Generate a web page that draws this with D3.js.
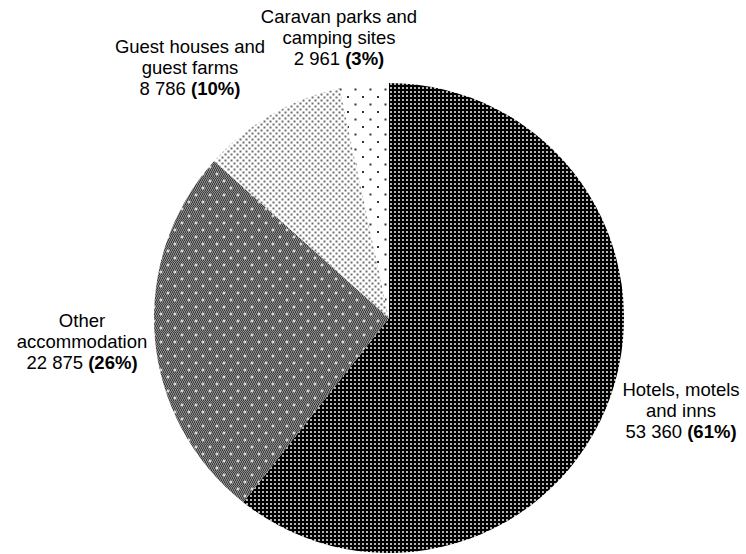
<!DOCTYPE html>
<html>
<head>
<meta charset="utf-8">
<script src="https://cdn.jsdelivr.net/npm/d3@7"></script>
<style>
  html, body { margin: 0; padding: 0; background: #fff; }
  svg { display: block; }
  text { font-family: "Liberation Sans", Arial, sans-serif; font-size: 18.5px; fill: #000; }
</style>
</head>
<body>
<svg id="chart" width="746" height="554"></svg>
<script>
// Accommodation establishments by type
const categories = [
  "Hotels, motels and inns",
  "Other accommodation",
  "Guest houses and guest farms",
  "Caravan parks and camping sites"
];
const values = [53360, 22875, 8786, 2961];

// Label lines (name part) for each category
const labelLines = [
  ["Hotels, motels", "and inns"],
  ["Other", "accommodation"],
  ["Guest houses and", "guest farms"],
  ["Caravan parks and", "camping sites"]
];

const width = 746, height = 554;
const cx = 389, cy = 318, radius = 235;

const svg = d3.select("#chart");
const defs = svg.append("defs");

// Fill patterns, one per slice
function pattern(id, w, h, build) {
  const p = defs.append("pattern")
    .attr("id", id)
    .attr("patternUnits", "userSpaceOnUse")
    .attr("width", w).attr("height", h);
  build(p);
}

// dark: black with a fine grid of light dots
pattern("pHotels", 4, 4, p => {
  p.append("rect").attr("width", 4).attr("height", 4).attr("fill", "#000");
  p.append("rect").attr("x", 1).attr("y", 1).attr("width", 2).attr("height", 2).attr("fill", "#b4b4b4");
});

// mid grey: checkered grey with white crosses on a staggered lattice
pattern("pOther", 14, 14, p => {
  p.append("rect").attr("width", 14).attr("height", 14).attr("fill", "#8a8a8a");
  for (let y = 0; y < 14; y += 2) {
    for (let x = 0; x < 14; x += 2) {
      p.append("rect").attr("x", x + ((y / 2) % 2)).attr("y", y).attr("width", 1).attr("height", 1).attr("fill", "#3a3a3a");
      p.append("rect").attr("x", x + 1 - ((y / 2) % 2)).attr("y", y + 1).attr("width", 1).attr("height", 1).attr("fill", "#4a4a4a");
    }
  }
  [[3, 3], [10, 10]].forEach(([x, y]) => {
    p.append("rect").attr("x", x - 1.5).attr("y", y - 0.5).attr("width", 3).attr("height", 1).attr("fill", "#fff");
    p.append("rect").attr("x", x - 0.5).attr("y", y - 1.5).attr("width", 1).attr("height", 3).attr("fill", "#fff");
  });
});

// light: white with grey dots
pattern("pGuest", 6, 6, p => {
  p.append("rect").attr("width", 6).attr("height", 6).attr("fill", "#fff");
  p.append("rect").attr("x", 0.5).attr("y", 0.5).attr("width", 2).attr("height", 2).attr("fill", "#707070");
  p.append("rect").attr("x", 3.5).attr("y", 3.5).attr("width", 2).attr("height", 2).attr("fill", "#707070");
});

// very light: white with sparse black dots
pattern("pCaravan", 15, 15, p => {
  p.append("rect").attr("width", 15).attr("height", 15).attr("fill", "#fff");
  p.append("rect").attr("x", 3).attr("y", 3).attr("width", 2).attr("height", 2).attr("fill", "#333");
  p.append("rect").attr("x", 10.5).attr("y", 10.5).attr("width", 2).attr("height", 2).attr("fill", "#333");
});

const fills = ["url(#pHotels)", "url(#pOther)", "url(#pGuest)", "url(#pCaravan)"];

const pie = d3.pie().sort(null).value(d => d)(values);
const arc = d3.arc().innerRadius(0).outerRadius(radius);

const g = svg.append("g").attr("transform", `translate(${cx},${cy})`);
g.selectAll("path.slice")
  .data(pie)
  .join("path")
  .attr("class", "slice")
  .attr("d", arc)
  .attr("fill", (d, i) => fills[i]);

// Labels
const total = d3.sum(values);
const fmt = d3.formatLocale({ decimal: ".", thousands: " ", grouping: [3], currency: ["", ""] }).format(",d");

// label block centres (x) and first-line baselines (y)
const labelPos = [
  [681, 396],
  [82, 327],
  [190, 53],
  [339, 23]
];
const lineStep = 21;

categories.forEach((c, i) => {
  const [lx, ly] = labelPos[i];
  const t = svg.append("text")
    .attr("text-anchor", "middle")
    .attr("x", lx).attr("y", ly);
  labelLines[i].forEach((line, k) => {
    t.append("tspan").attr("x", lx).attr("y", ly + k * lineStep).text(line);
  });
  const last = t.append("tspan").attr("x", lx).attr("y", ly + labelLines[i].length * lineStep);
  last.append("tspan").text(fmt(values[i]) + " ");
  last.append("tspan").attr("font-weight", "bold").text("(" + Math.round(values[i] / total * 100) + "%)");
});
</script>
</body>
</html>
